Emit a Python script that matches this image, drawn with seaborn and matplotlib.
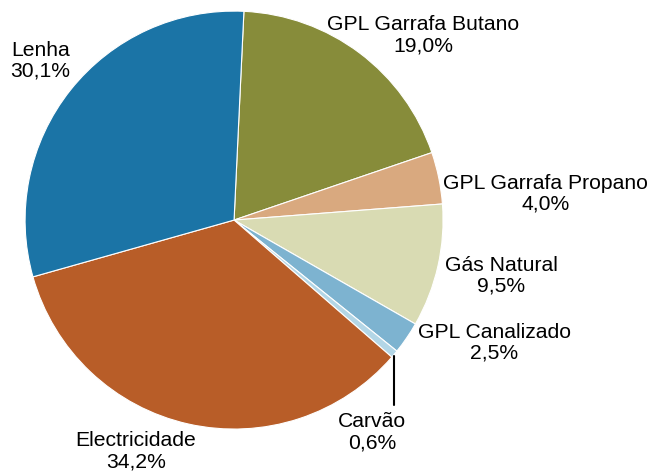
import numpy as np
import matplotlib
matplotlib.use("Agg")
import matplotlib.pyplot as plt
import seaborn as sns

# Data (clockwise from top)
categories = ["GPL Garrafa Butano", "GPL Garrafa Propano", "Gás Natural",
              "GPL Canalizado", "Carvão", "Electricidade", "Lenha"]
shares = [19.0, 4.0, 9.5, 2.5, 0.6, 34.2, 30.1]
colors = ["#878C3A", "#D9A97F", "#D9DBB3", "#7DB3D0", "#B3D6E6", "#B85D28", "#1B74A6"]

# label placement: (radial distance, angle in deg) per wedge
label_pos = {
    "GPL Garrafa Butano": (1.265, 44.4),
    "GPL Garrafa Propano": (1.494, 4.9),
    "Gás Natural": (1.306, -11.8),
    "GPL Canalizado": (1.376, -25.3),
    "Carvão": (1.21, -57.0),
    "Electricidade": (1.201, -113.0),
    "Lenha": (1.20, 140.5),
}

sns.set_theme(style="white")
plt.rcParams["font.family"] = ["Liberation Sans", "DejaVu Sans"]

fig = plt.figure(figsize=(6.51, 4.74), dpi=100)
ax = fig.add_axes([0, 0, 1, 1])

wedges, _ = ax.pie(shares, colors=colors, startangle=87.3, counterclock=False,
                   wedgeprops=dict(edgecolor="white", linewidth=0.8))

for cat, val in zip(categories, shares):
    r, ang = label_pos[cat]
    x = r * np.cos(np.radians(ang))
    y = r * np.sin(np.radians(ang))
    txt = f"{cat}\n{val:.1f}%".replace(".", ",")
    ax.text(x, y, txt, ha="center", va="center", fontsize=15.2,
            color="black", linespacing=1.12)

# leader line for Carvão
idx = categories.index("Carvão")
w = wedges[idx]
mid = np.radians((w.theta1 + w.theta2) / 2)
x0 = np.cos(mid)
ax.plot([x0, x0], [np.sin(mid) - 0.01, -0.885], color="black", lw=1.5)

ax.set_xlim(-1.120, 1.995)
ax.set_ylim(-1.215, 1.053)
ax.axis("off")

fig.savefig("out.png", dpi=100)
